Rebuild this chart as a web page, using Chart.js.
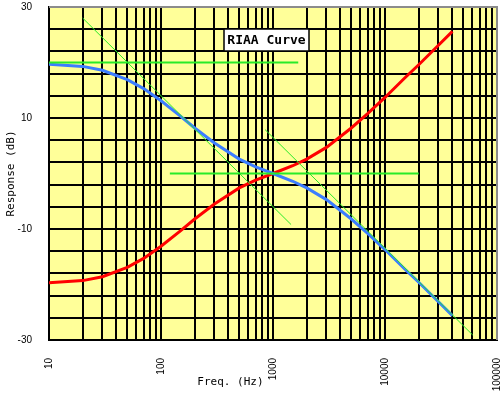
<!DOCTYPE html>
<html>
<head>
<meta charset="utf-8">
<script src="https://cdn.jsdelivr.net/npm/chart.js@4/dist/chart.umd.min.js"></script>
<style>
  body { margin: 0; background: #fff; }
  #riaaChart { display: block; }
</style>
</head>
<body>
<canvas id="riaaChart" width="503" height="396"></canvas>
<script>
var freqs = [10, 20, 30, 50, 70, 100, 150, 200, 300, 500, 700, 1000,
             1500, 2000, 3000, 5000, 7000, 10000, 15000, 20000, 30000, 40000];
// playback (blue) response in dB
var playback = [19.7, 19.3, 18.6, 16.9, 15.3, 13.1, 10.3, 8.2, 5.5, 2.6, 1.2, 0,
                -1.4, -2.6, -4.7, -8.2, -10.8, -13.7, -17.2, -19.6, -23.1, -25.6];
// recording (red) response in dB
var recording = [-19.7, -19.3, -18.6, -16.9, -15.3, -13.1, -10.3, -8.2, -5.5, -2.6, -1.2, 0,
                 1.4, 2.6, 4.7, 8.2, 10.8, 13.7, 17.2, 19.6, 23.1, 25.6];

// green asymptote lines: [freq, dB] end points
var flatHigh = [[10, 20], [1680, 20]];
var slopeLow = [[20, 28], [1450, -9.2]];
var flatZero = [[120, 0], [20000, 0]];
var slopeHigh = [[850, 7.9], [60700, -29.1]];

// grid frequencies for the log axis and the labelled decades
var gridFreqs = [10, 20, 30, 40, 50, 60, 70, 80, 90,
                 100, 200, 300, 400, 500, 600, 700, 800, 900,
                 1000, 2000, 3000, 4000, 5000, 6000, 7000, 8000, 9000,
                 10000, 20000, 30000, 40000, 50000, 60000, 70000, 80000, 90000,
                 100000];
var decadeLabels = [10, 100, 1000, 10000, 100000];

var chartTitle = "RIAA Curve";
var xTitle = "Freq. (Hz)";
var yTitle = "Response (dB)";

function toPoints(xs, ys) {
    var pts = [];
    for (var i = 0; i < xs.length; i++) {
        pts.push({x: xs[i], y: ys[i]});
    }
    return pts;
}

function pairPoints(pairs) {
    return pairs.map(function(p) { return {x: p[0], y: p[1]}; });
}

function lineSet(data, color, width) {
    return {
        data: data,
        borderColor: color,
        borderWidth: width,
        showLine: true,
        pointRadius: 0,
        tension: 0,
        fill: false
    };
}

function noPadding(scale) {
    scale.paddingTop = 0;
    scale.paddingBottom = 0;
    scale.paddingLeft = 0;
    scale.paddingRight = 0;
}

var green = "rgb(40,235,40)";
var tickFont = { family: "'Liberation Sans', 'DejaVu Sans Condensed', sans-serif", size: 10 };

var decor = {
    id: "decor",
    beforeDraw: function(chart) {
        var a = chart.chartArea, ctx = chart.ctx;
        ctx.save();
        ctx.fillStyle = "#ffff99";
        ctx.fillRect(a.left, a.top, a.right - a.left, a.bottom - a.top);
        ctx.restore();
    },
    afterDraw: function(chart) {
        var a = chart.chartArea, ctx = chart.ctx;
        ctx.save();
        // grey frame on top and right
        ctx.strokeStyle = "#8c8c8c";
        ctx.lineWidth = 2;
        ctx.beginPath();
        ctx.moveTo(a.left, a.top);
        ctx.lineTo(a.right, a.top);
        ctx.lineTo(a.right, a.bottom);
        ctx.stroke();

        // title box inside the plot
        var bx = a.left + 175, by = a.top + 22, bw = 85, bh = 22;
        ctx.fillStyle = "#fff";
        ctx.fillRect(bx, by, bw, bh);
        ctx.strokeStyle = "#000";
        ctx.lineWidth = 1.5;
        ctx.strokeRect(bx, by, bw, bh);
        ctx.fillStyle = "#000";
        ctx.font = "bold 13px 'DejaVu Sans Mono', monospace";
        ctx.textAlign = "center";
        ctx.textBaseline = "middle";
        ctx.fillText(chartTitle, bx + bw / 2, by + bh / 2 + 1);

        // x axis title
        ctx.font = "11px 'DejaVu Sans Mono', monospace";
        ctx.fillText(xTitle, a.left + (a.right - a.left) * 0.405, 382);
        ctx.restore();
    }
};

var ctx = document.getElementById("riaaChart");
var riaaChart = new Chart(ctx, {
    type: "scatter",
    data: {
        datasets: [
            lineSet(pairPoints(flatHigh), green, 2),
            lineSet(pairPoints(slopeLow), green, 1),
            lineSet(pairPoints(flatZero), green, 2),
            lineSet(pairPoints(slopeHigh), green, 1),
            lineSet(toPoints(freqs, playback), "rgb(60,125,255)", 3),
            lineSet(toPoints(freqs, recording), "rgb(255,0,0)", 3)
        ]
    },
    options: {
        responsive: false,
        animation: false,
        layout: { padding: { top: 7, right: 6, left: 0, bottom: 0 } },
        plugins: {
            legend: { display: false },
            tooltip: { enabled: false }
        },
        scales: {
            x: {
                type: "logarithmic",
                min: 10,
                max: 100000,
                afterBuildTicks: function(scale) {
                    scale.ticks = gridFreqs.map(function(v) { return {value: v}; });
                },
                afterFit: function(scale) {
                    scale.height = 56;
                    noPadding(scale);
                },
                grid: { color: "#000", lineWidth: 2, drawTicks: false },
                border: { color: "#000", width: 2 },
                ticks: {
                    autoSkip: false,
                    minRotation: 90,
                    maxRotation: 90,
                    padding: 18,
                    color: "#000",
                    font: tickFont,
                    callback: function(v) {
                        return decadeLabels.indexOf(v) >= 0 ? String(v) : "";
                    }
                }
            },
            y: {
                min: -30,
                max: 30,
                afterFit: function(scale) {
                    scale.width = 49;
                    noPadding(scale);
                },
                grid: { color: "#000", lineWidth: 2, drawTicks: false },
                border: { color: "#000", width: 2 },
                title: {
                    display: true,
                    text: yTitle,
                    color: "#000",
                    padding: { top: 5, bottom: 0 },
                    font: { family: "'DejaVu Sans Mono', monospace", size: 11 }
                },
                ticks: {
                    stepSize: 2,
                    padding: 17,
                    color: "#000",
                    font: tickFont,
                    callback: function(v) {
                        return v % 10 === 0 ? String(v) : "";
                    }
                }
            }
        }
    },
    plugins: [decor]
});
</script>
</body>
</html>
